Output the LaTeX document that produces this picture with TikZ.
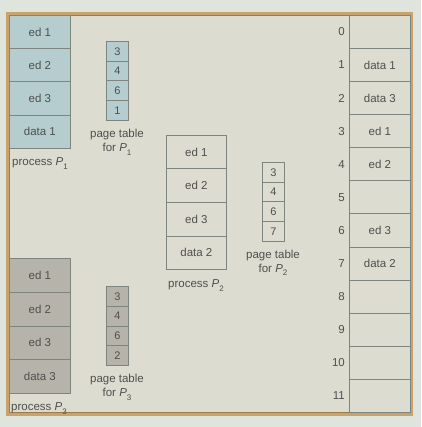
\documentclass[tikz,border=0pt]{standalone}
\usepackage{fontspec}
\setmainfont{Liberation Sans}
\definecolor{outerbg}{HTML}{DFE4DC}
\definecolor{innerbg}{HTML}{DDDCD1}
\definecolor{frametan}{HTML}{C9A36E}
\definecolor{framedark}{HTML}{9E7A4C}
\definecolor{linec}{HTML}{7E847E}
\definecolor{txt}{HTML}{4E504E}
\definecolor{blue1}{HTML}{B5CDCF}
\definecolor{gray3}{HTML}{B6B4AA}
\newcommand{\Psub}[1]{\textit{P}\raisebox{-0.6ex}{\footnotesize #1}}
\tikzset{
  cell/.style={draw=linec, line width=0.8pt, anchor=north west, inner sep=0pt, text=txt, font=\fontsize{11.5}{13}\selectfont},
  bigcell/.style={cell, minimum width=61pt},
  ptcell/.style={cell, minimum width=22pt, minimum height=19.75pt, font=\fontsize{11}{12}\selectfont},
  lbl/.style={text=txt, font=\fontsize{11.5}{14}\selectfont, align=center, inner sep=0pt},
  num/.style={text=txt, font=\fontsize{11.5}{13}\selectfont, anchor=east, inner sep=0pt},
}
\begin{document}
\begin{tikzpicture}[x=1pt,y=-1pt]
\useasboundingbox (0,0) rectangle (421,427);
\fill[outerbg] (0,0) rectangle (421,427);
\fill[innerbg] (7.5,13.5) rectangle (411.5,414.5);
\draw[frametan, line width=3pt] (7.5,13.5) rectangle (411.5,414.5);
\draw[framedark, line width=0.6pt] (9.3,15.3) rectangle (409.7,412.7);

% process P1
\foreach \t [count=\i from 0] in {ed 1,ed 2,ed 3,data 1}
  \node[bigcell, fill=blue1, minimum height=33.25pt] (p1\i) at (9,15+33.25*\i) {\t};
\node[lbl, anchor=north] (p1lbl) at (40,157.5) {process \Psub{1}};

% page table P1
\foreach \t [count=\i from 0] in {3,4,6,1}
  \node[ptcell, fill=blue1] (t1\i) at (106,41+19.75*\i) {\t};
\node[lbl, anchor=north] (t1lbl) at (117,129) {page table\\for \Psub{1}};

% process P2
\foreach \t [count=\i from 0] in {ed 1,ed 2,ed 3,data 2}
  \node[bigcell, fill=innerbg, minimum width=60pt, minimum height=33.5pt] (p2\i) at (166,135+33.5*\i) {\t};
\node[lbl, anchor=north] (p2lbl) at (196,279.5) {process \Psub{2}};

% page table P2
\foreach \t [count=\i from 0] in {3,4,6,7}
  \node[ptcell, fill=innerbg] (t2\i) at (262,162+19.75*\i) {\t};
\node[lbl, anchor=north] (t2lbl) at (273,249.5) {page table\\for \Psub{2}};

% process P3
\foreach \t [count=\i from 0] in {ed 1,ed 2,ed 3,data 3}
  \node[bigcell, fill=gray3, minimum height=33.75pt] (p3\i) at (9,258+33.75*\i) {\t};
\node[lbl, anchor=north west] (p3lbl) at (11,402.5) {process \Psub{3}};

% page table P3
\foreach \t [count=\i from 0] in {3,4,6,2}
  \node[ptcell, fill=gray3] (t3\i) at (106,286+19.75*\i) {\t};
\node[lbl, anchor=north] (t3lbl) at (117,374) {page table\\for \Psub{3}};

% physical memory
\foreach \t [count=\i from 0] in {{},data 1,data 3,ed 1,ed 2,{},ed 3,data 2,{},{},{},{}} {
  \node[bigcell, fill=innerbg, minimum height=33.08pt] (m\i) at (349,15+33.08*\i) {\t};
  \node[num] (n\i) at ([xshift=-4pt]m\i.west) {\i};
}
\end{tikzpicture}
\end{document}
